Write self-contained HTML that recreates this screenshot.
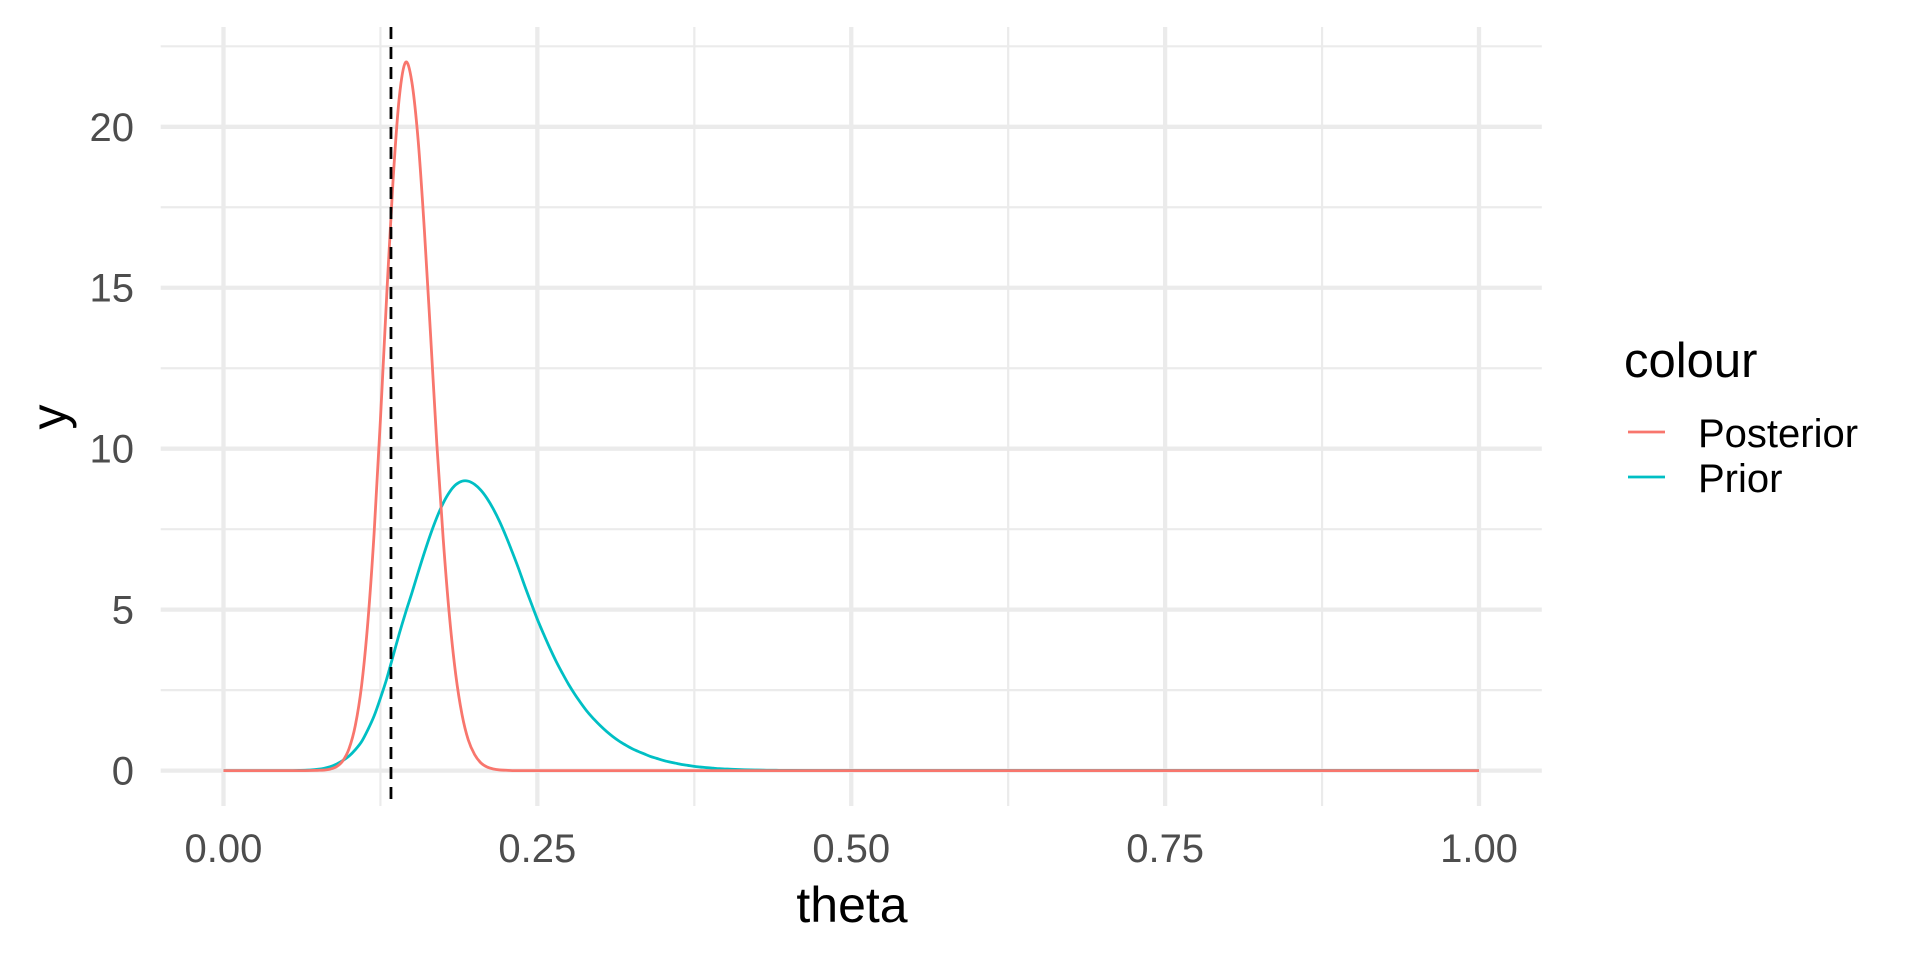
<!DOCTYPE html>
<html><head><meta charset="utf-8"><style>
html,body{margin:0;padding:0;background:#fff;}
svg{display:block;font-family:"Liberation Sans",Arial,sans-serif;}
</style></head><body>
<svg id="chart" width="1920" height="960" viewBox="0 0 1920 960" xmlns="http://www.w3.org/2000/svg">
<g id="grid"></g>
<g id="marks"></g>
<g id="axes"></g>
<text x="852" y="922" font-size="50" text-anchor="middle" fill="#000">theta</text>
<text transform="translate(66,417) rotate(-90)" font-size="50" text-anchor="middle" fill="#000">y</text>
<g>
<text x="1624" y="377" font-size="49" fill="#000">colour</text>
<g>
<line x1="1628" y1="432" x2="1665" y2="432" stroke="#F8766D" stroke-width="2.8"/>
<text x="1698" y="447" font-size="40" fill="#000">Posterior</text>
</g>
<g>
<line x1="1628" y1="477" x2="1665" y2="477" stroke="#00BFC4" stroke-width="2.8"/>
<text x="1698" y="492" font-size="40" fill="#000">Prior</text>
</g>
</g>
</svg>
<script>
const thetaValues = [0,
0.05,0.055,0.06,0.065,0.07,0.075,0.08,0.085,0.09,0.095,
0.10,0.105,0.11,0.115,0.12,0.125,0.13,0.135,0.14,0.145,
0.15,0.155,0.16,0.165,0.17,0.175,0.18,0.185,0.19,0.195,
0.20,0.205,0.21,0.215,0.22,0.225,0.23,0.235,0.24,0.245,
0.25,0.255,0.26,0.265,0.27,0.275,0.28,0.285,0.29,0.295,
0.30,0.305,0.31,0.315,0.32,0.325,0.33,0.335,0.34,0.345,
0.35,0.355,0.36,0.365,0.37,0.375,0.38,0.385,0.39,0.395,
0.40,0.405,0.41,0.415,0.42,0.425,0.43,0.435,0.44,0.445,
0.45,0.5,1.0];
const priorValues = [0,
0,0,0.005,0.01,0.02,0.04,0.07,0.12,0.2,0.31,
0.45,0.65,0.9,1.27,1.7,2.25,2.85,3.55,4.25,4.9,
5.51,6.15,6.77,7.35,7.87,8.31,8.65,8.88,8.99,8.99,
8.89,8.71,8.45,8.12,7.73,7.28,6.79,6.28,5.73,5.21,
4.7,4.24,3.8,3.39,3.02,2.67,2.36,2.08,1.82,1.6,
1.4,1.22,1.06,0.92,0.8,0.69,0.6,0.52,0.44,0.38,
0.32,0.27,0.23,0.19,0.16,0.13,0.11,0.09,0.075,0.06,
0.05,0.04,0.033,0.027,0.021,0.017,0.013,0.01,0.008,0.006,
0.005,0.001,0];
const posteriorValues = [0,
0,0,0,0,0.003,0.008,0.016,0.046,0.12,0.3,
0.68,1.4,2.64,4.62,7.39,10.9,14.75,18.3,20.9,22.0,
21.4,19.6,16.8,13.5,10.1,7.2,4.79,2.98,1.74,0.95,
0.5,0.24,0.11,0.05,0.02,0.01,0,0,0,0,
0,0,0,0,0,0,0,0,0,0,
0,0,0,0,0,0,0,0,0,0,
0,0,0,0,0,0,0,0,0,0,
0,0,0,0,0,0,0,0,0,0,
0,0,0];
const xTicks = [0,0.25,0.5,0.75,1.0];
const xTickLabels = ["0.00","0.25","0.50","0.75","1.00"];
const xMinor = [0.125,0.375,0.625,0.875];
const yTicks = [0,5,10,15,20];
const yTickLabels = ["0","5","10","15","20"];
const yMinor = [2.5,7.5,12.5,17.5,22.5];
const markerTheta = 0.1334;

const NS="http://www.w3.org/2000/svg";
const X0=160.7,X1=1541.8,Y0=806,Y1=27;
const xs=v=>X0+(v-(-0.05))/(1.10)*(X1-X0);
const ys=v=>Y0-(v-(-1.1))/(24.2)*(Y0-Y1);
function mk(tag,attrs,parent){const e=document.createElementNS(NS,tag);for(const k in attrs)e.setAttribute(k,attrs[k]);parent.appendChild(e);return e;}
const grid=document.getElementById('grid'),marks=document.getElementById('marks'),axes=document.getElementById('axes');
yMinor.forEach(v=>{const l=mk('line',{x1:X0,x2:X1,y1:ys(v),y2:ys(v),stroke:'#ebebeb','stroke-width':2.2},grid);

});
xMinor.forEach(v=>{const l=mk('line',{x1:xs(v),x2:xs(v),y1:Y1,y2:Y0,stroke:'#ebebeb','stroke-width':2.2},grid);

});
yTicks.forEach((v,i)=>{const l=mk('line',{x1:X0,x2:X1,y1:ys(v),y2:ys(v),stroke:'#ebebeb','stroke-width':4.3},grid);


const t=mk('text',{x:134,y:ys(v)+14,'font-size':40,'text-anchor':'end',fill:'#4d4d4d'},axes);t.textContent=yTickLabels[i];

});
xTicks.forEach((v,i)=>{const l=mk('line',{x1:xs(v),x2:xs(v),y1:Y1,y2:Y0,stroke:'#ebebeb','stroke-width':4.3},grid);


const t=mk('text',{x:xs(v),y:862,'font-size':40,'text-anchor':'middle',fill:'#4d4d4d'},axes);t.textContent=xTickLabels[i];

});
function pathFor(vals){
  const p=thetaValues.map((t,i)=>[xs(t),ys(vals[i])]);
  const base=ys(0);
  let d='M'+p[0][0].toFixed(2)+','+p[0][1].toFixed(2);
  for(let i=0;i<p.length-1;i++){
    const a=p[Math.max(i-1,0)],b=p[i],c=p[i+1],e=p[Math.min(i+2,p.length-1)];
    const h=c[0]-b[0];
    const s1=(c[1]-a[1])/(c[0]-a[0]||1), s2=(e[1]-b[1])/(e[0]-b[0]||1);
    let c1y=b[1]+s1*h/3, c2y=c[1]-s2*h/3;
    c1y=Math.min(c1y,base);c2y=Math.min(c2y,base);
    d+=' C'+(b[0]+h/3).toFixed(2)+','+c1y.toFixed(2)+' '+(c[0]-h/3).toFixed(2)+','+c2y.toFixed(2)+' '+c[0].toFixed(2)+','+c[1].toFixed(2);
  }
  return d;
}
const pr=mk('path',{d:pathFor(priorValues),fill:'none',stroke:'#00BFC4','stroke-width':2.8,'stroke-linejoin':'round'},marks);


const po=mk('path',{d:pathFor(posteriorValues),fill:'none',stroke:'#F8766D','stroke-width':2.8,'stroke-linejoin':'round'},marks);


const vl=mk('line',{x1:xs(markerTheta),x2:xs(markerTheta),y1:Y1,y2:Y0,stroke:'#000','stroke-width':2.8,'stroke-dasharray':'12,8'},marks);


</script>
</body></html>
